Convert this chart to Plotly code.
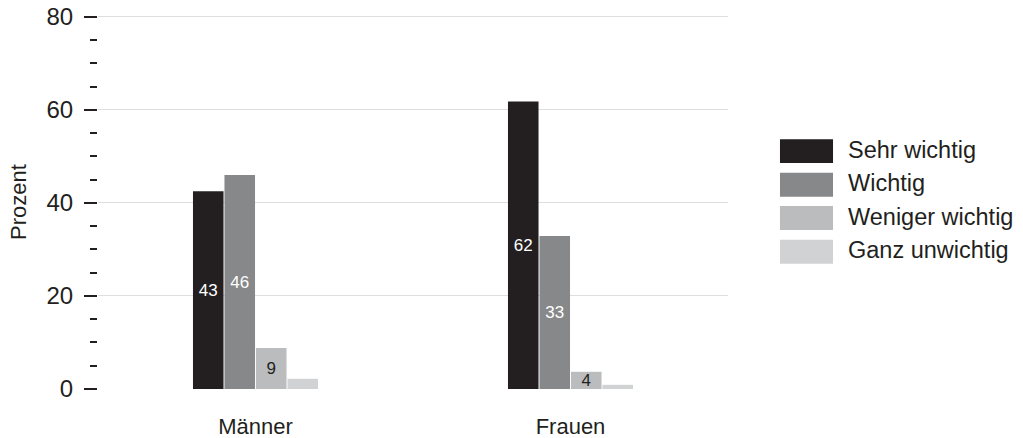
import plotly.graph_objects as go

categories = ["Männer", "Frauen"]
series_names = ["Sehr wichtig", "Wichtig", "Weniger wichtig", "Ganz unwichtig"]
values = {
    "Sehr wichtig": [42.5, 61.8],
    "Wichtig": [46.0, 32.9],
    "Weniger wichtig": [8.8, 3.7],
    "Ganz unwichtig": [2.2, 0.9],
}
labels = {
    "Sehr wichtig": ["43", "62"],
    "Wichtig": ["46", "33"],
    "Weniger wichtig": ["9", "4"],
    "Ganz unwichtig": ["", ""],
}
colors = ["#231f20", "#87888a", "#bbbcbe", "#d1d2d4"]
label_colors = ["#ffffff", "#ffffff", "#231f20", "#231f20"]
y_ticks = [0, 20, 40, 60, 80]
y_title = "Prozent"

FONT = "Liberation Sans, Arial, sans-serif"
TXT = "#231f20"

fig = go.Figure()
for name, col, lc in zip(series_names, colors, label_colors):
    fig.add_trace(go.Bar(
        x=categories, y=values[name], name=name,
        marker=dict(color=col, line=dict(width=0)),
        text=labels[name], textposition="inside", insidetextanchor="middle",
        constraintext="none", textangle=0,
        textfont=dict(family=FONT, size=17, color=lc),
        showlegend=False, hoverinfo="skip",
    ))

# custom legend (large rectangular swatches)
row_y = [0.636, 0.546, 0.457, 0.367]
half_h = 0.032
for i, (name, col) in enumerate(zip(series_names, colors)):
    yc = row_y[i]
    fig.add_shape(type="rect", xref="paper", yref="paper",
                  x0=1.0825, x1=1.1667, y0=yc - half_h, y1=yc + half_h,
                  fillcolor=col, line=dict(width=0))
    fig.add_annotation(xref="paper", yref="paper", x=1.188, y=yc + 0.004,
                       text=name, showarrow=False, xanchor="left", yanchor="middle",
                       font=dict(family=FONT, size=23.5, color=TXT))

fig.update_layout(
    width=1023, height=438,
    margin=dict(l=98, r=295, t=15, b=49, autoexpand=False),
    paper_bgcolor="white", plot_bgcolor="white",
    barmode="group", bargap=0.6, bargroupgap=0.03,
    font=dict(family=FONT, size=22, color=TXT),
    showlegend=False,
)
fig.update_xaxes(
    showgrid=False, showline=False, ticks="", zeroline=False, automargin=False,
    tickfont=dict(family=FONT, size=22, color=TXT),
    ticklabelstandoff=22,
)
fig.update_yaxes(
    range=[0, 80.4], tickvals=y_ticks, showgrid=True, gridcolor="#dedede", gridwidth=1,
    zeroline=True, zerolinecolor="white", zerolinewidth=2, automargin=False,
    showline=False, ticks="outside", ticklen=13, tickwidth=2, tickcolor=TXT,
    minor=dict(dtick=5, ticks="outside", ticklen=7, tickwidth=2, tickcolor=TXT, showgrid=False),
    tickfont=dict(family=FONT, size=24, color=TXT),
    ticklabelstandoff=6,
    title=dict(text=y_title, font=dict(family=FONT, size=22, color=TXT), standoff=13),
)

fig.write_html("out.html", config={"displayModeBar": False},
               post_script="document.body.style.margin='0';document.body.style.overflow='hidden';")
